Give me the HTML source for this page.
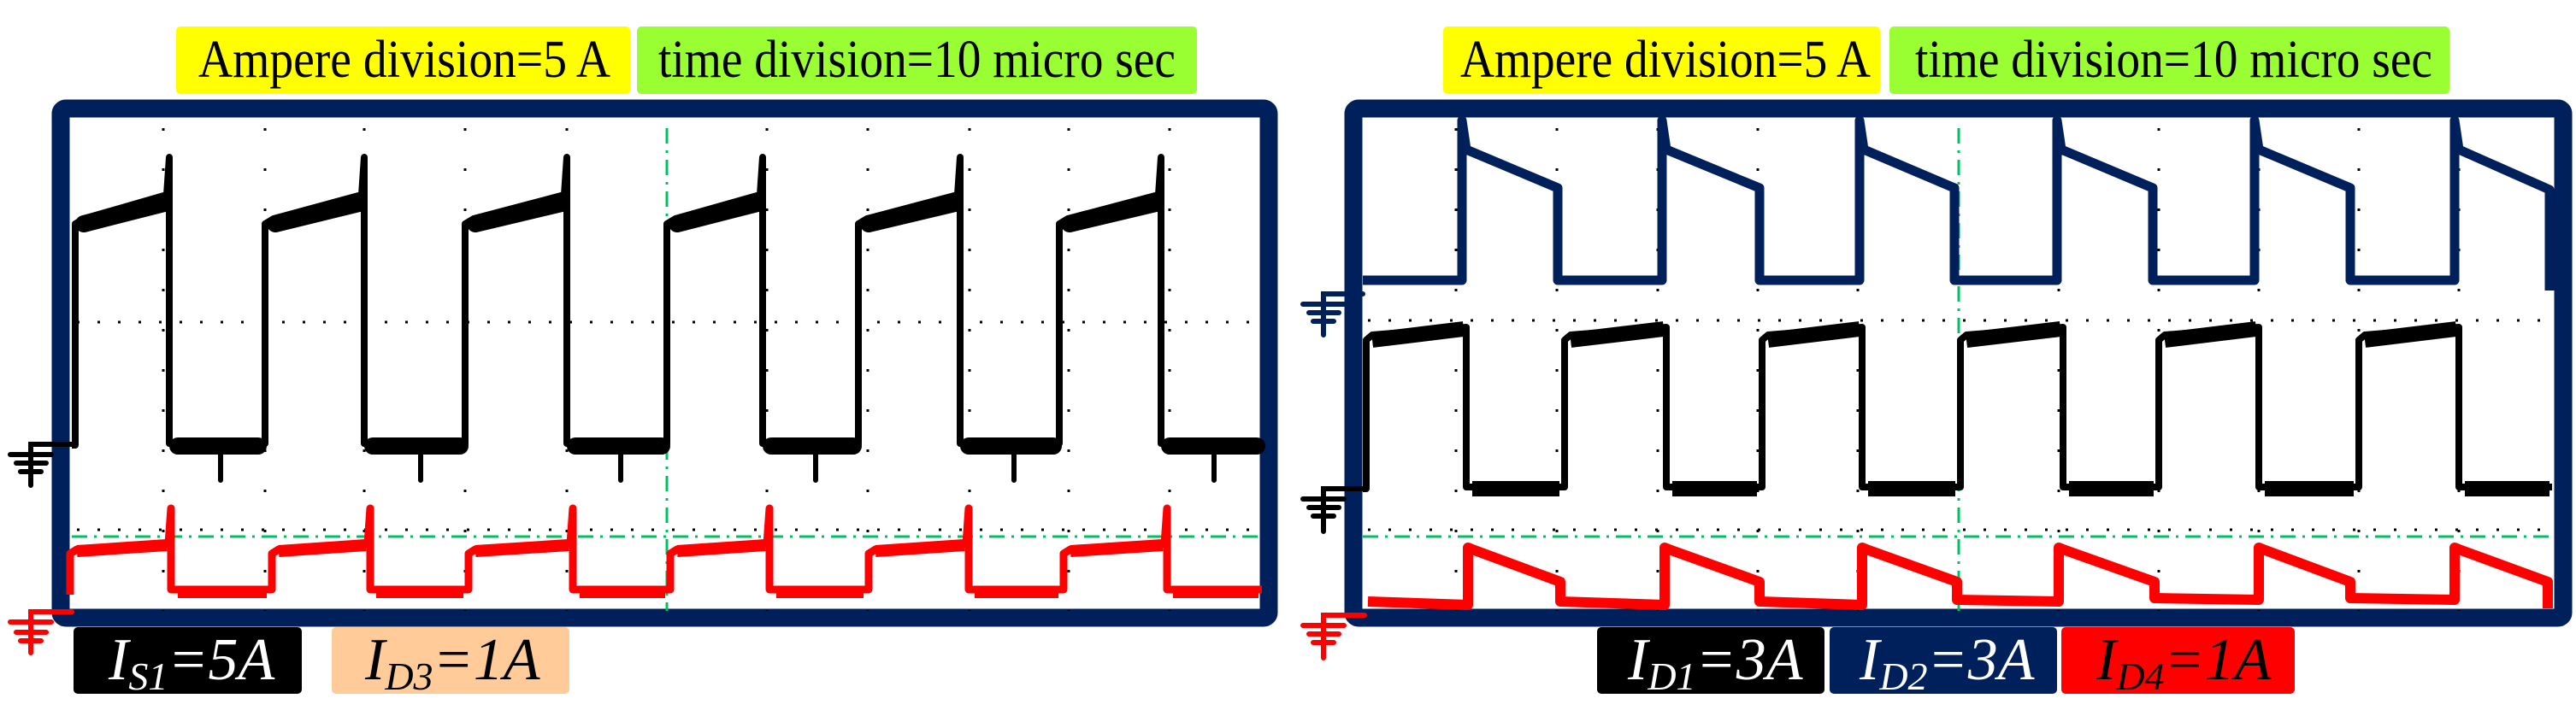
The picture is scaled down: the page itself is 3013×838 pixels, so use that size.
<!DOCTYPE html>
<html><head><meta charset="utf-8"><style>
html,body{margin:0;padding:0;background:#fff;}
svg{display:block;}
text,tspan{font-family:"Liberation Serif","DejaVu Serif","Times New Roman",serif;}
</style></head><body>
<svg width="3013" height="838" viewBox="0 0 3013 838" xmlns="http://www.w3.org/2000/svg">
<rect width="3013" height="838" fill="#fff"/>

<rect x="206" y="31" width="531" height="79" rx="5" fill="#ffff00"/>
<text x="232" y="90" font-size="62" textLength="482" lengthAdjust="spacingAndGlyphs">Ampere division=5 A</text>
<rect x="745" y="31" width="655" height="79" rx="5" fill="#99ff33"/>
<text x="770" y="90" font-size="62" textLength="605" lengthAdjust="spacingAndGlyphs">time division=10 micro sec</text>
<rect x="1688" y="31" width="511" height="79" rx="5" fill="#ffff00"/>
<text x="1708" y="90" font-size="62" textLength="480" lengthAdjust="spacingAndGlyphs">Ampere division=5 A</text>
<rect x="2210" y="31" width="655" height="79" rx="5" fill="#99ff33"/>
<text x="2240" y="90" font-size="62" textLength="605" lengthAdjust="spacingAndGlyphs">time division=10 micro sec</text>

<rect x="71" y="127" width="1413" height="596" rx="6" fill="none" stroke="#00205b" stroke-width="21"/>
<rect x="1583" y="127" width="1415" height="596" rx="6" fill="none" stroke="#00205b" stroke-width="21"/>

<g stroke="#000" stroke-width="3" stroke-dasharray="3 44" fill="none">
<path d="M191,150V715 M310,150V715 M426,150V715 M544,150V715 M663,150V715 M897,150V715 M1015,150V715 M1134,150V715 M1250,150V715 M1368,150V715"/>
<path d="M1703,150V715 M1821,150V715 M1939,150V715 M2056,150V715 M2173,150V715 M2408,150V715 M2525,150V715 M2642,150V715 M2759,150V715 M2876,150V715"/>
</g>
<g stroke="#000" stroke-width="3" stroke-dasharray="3 21" fill="none">
<path d="M90,377H1476 M1600,375H2988"/>
<path d="M90,620H1476 M1600,620H2988"/>
</g>
<g stroke="#00c060" stroke-width="3" fill="none" stroke-dasharray="18 8 3 8">
<path d="M780,150V715 M2291,150V715"/>
<path d="M84,628H1476 M1594,628H2988"/>
</g>

<path d="M84,521 L88,521 L88,262 L98,256 L195,228 L198,184 L198,519 L310,519 L310,262 L320,256 L423,228 L426,184 L426,519 L544,519 L544,262 L554,256 L660,228 L663,184 L663,519 L780,519 L780,262 L790,256 L889,228 L892,184 L892,519 L1004,519 L1004,262 L1014,256 L1120,228 L1123,184 L1123,519 L1239,519 L1239,262 L1249,256 L1355,228 L1358,184 L1358,519 L1476,519" fill="none" stroke="#000" stroke-width="8" stroke-linejoin="round"/>
<g stroke="#000" stroke-width="20" fill="none" stroke-linecap="round">
<path d="M98,262 L192,238 M322,262 L420,238 M556,262 L657,238 M792,262 L886,238 M1016,262 L1117,238 M1251,262 L1352,238"/>
<path d="M208,522 L302,522 M436,522 L538,522 M673,522 L774,522 M902,522 L998,522 M1133,522 L1232,522 M1368,522 L1470,522"/>
</g>
<g stroke="#000" stroke-width="6" fill="none" stroke-linecap="round">
<path d="M258,520V562 M492,520V562 M726,520V562 M954,520V562 M1186,520V562 M1420,520V562"/>
</g>
<path d="M82,696 L82,648 L90,643 L197,637 L200,595 L200,690 L318,690 L318,648 L326,643 L430,637 L433,595 L433,690 L548,690 L548,648 L556,643 L667,637 L670,595 L670,690 L784,690 L784,648 L792,643 L897,637 L900,595 L900,690 L1016,690 L1016,648 L1024,643 L1130,637 L1133,595 L1133,690 L1244,690 L1244,648 L1252,643 L1362,637 L1365,595 L1365,690 L1476,690" fill="none" stroke="#ff0000" stroke-width="9" stroke-linejoin="round"/>
<g stroke="#ff0000" stroke-width="14" fill="none"><path d="M90,645 L195,638 M326,645 L428,638 M556,645 L665,638 M792,645 L895,638 M1024,645 L1128,638 M1252,645 L1360,638"/><path d="M208,693 L312,693 M440,693 L542,693 M678,693 L778,693 M908,693 L1010,693 M1140,693 L1238,693 M1372,693 L1472,693"/></g>

<path d="M1594,328 L1710,328 L1710,141 L1715,175 L1822,220 L1822,328 L1944,328 L1944,141 L1949,175 L2058,220 L2058,328 L2175,328 L2175,141 L2180,175 L2286,220 L2286,328 L2406,328 L2406,141 L2411,175 L2518,220 L2518,328 L2637,328 L2637,141 L2642,175 L2749,220 L2749,328 L2871,328 L2871,141 L2876,175 L2982,222 L2982,340" fill="none" stroke="#00205b" stroke-width="11" stroke-linejoin="round"/>
<path d="M1594,572 L1598,572 L1598,398 L1605,392 L1715,383 L1715,570 L1830,570 L1830,398 L1837,392 L1949,383 L1949,570 L2061,570 L2061,398 L2068,392 L2178,383 L2178,570 L2293,570 L2293,398 L2300,392 L2413,383 L2413,570 L2525,570 L2525,398 L2532,392 L2642,383 L2642,570 L2759,570 L2759,398 L2766,392 L2876,383 L2876,570 L2985,570" fill="none" stroke="#000" stroke-width="8" stroke-linejoin="round"/>
<g stroke="#000" stroke-width="18" fill="none"><path d="M1605,398 L1712,385 M1837,398 L1946,385 M2068,398 L2175,385 M2300,398 L2410,385 M2532,398 L2639,385 M2766,398 L2873,385"/><path d="M1722,572 L1824,572 M1956,572 L2055,572 M2185,572 L2287,572 M2420,572 L2519,572 M2649,572 L2753,572 M2883,572 L2982,572"/></g>
<path d="M1600,704 L1717,708 L1717,641 L1722,643 L1825,681 L1825,704 L1947,708 L1947,641 L1952,643 L2058,681 L2058,704 L2178,708 L2178,641 L2183,643 L2289,681 L2289,702 L2408,704 L2408,641 L2413,643 L2520,681 L2520,700 L2642,702 L2642,641 L2647,643 L2749,681 L2749,700 L2871,702 L2871,641 L2876,643 L2980,681 L2980,712" fill="none" stroke="#ff0000" stroke-width="12" stroke-linejoin="round"/>

<g stroke="#000" stroke-width="6" fill="none" stroke-linecap="round">
<path d="M88,520 H36 V568 M12,532 H60 M19,542 H54 M24,552 H48"/>
<path d="M1598,572 H1548 V622 M1524,584 H1572 M1531,594 H1566 M1536,604 H1560"/>
</g>
<g stroke="#00205b" stroke-width="6" fill="none" stroke-linecap="round">
<path d="M1594,344 H1548 V392 M1524,356 H1572 M1531,366 H1566 M1536,376 H1560"/>
</g>
<g stroke="#ff0000" stroke-width="6" fill="none" stroke-linecap="round">
<path d="M84,716 H36 V764 M12,728 H60 M19,740 H54 M24,750 H48"/>
<path d="M1596,720 H1548 V770 M1524,732 H1572 M1531,742 H1566 M1536,752 H1560"/>
</g>

<rect x="86" y="734" width="267" height="78" rx="5" fill="#000"/>
<text x="127" y="795" font-size="70" font-style="italic" fill="#fff">I<tspan font-size="46" dy="12">S1</tspan><tspan dy="-12">=5A</tspan></text>
<rect x="388" y="734" width="278" height="78" rx="5" fill="#ffcc99"/>
<text x="427" y="795" font-size="70" font-style="italic" fill="#000">I<tspan font-size="46" dy="12">D3</tspan><tspan dy="-12">=1A</tspan></text>
<rect x="1868" y="734" width="266" height="78" rx="5" fill="#000"/>
<text x="1904" y="795" font-size="70" font-style="italic" fill="#fff">I<tspan font-size="46" dy="12">D1</tspan><tspan dy="-12">=3A</tspan></text>
<rect x="2140" y="734" width="266" height="78" rx="5" fill="#00205b"/>
<text x="2175" y="795" font-size="70" font-style="italic" fill="#fff">I<tspan font-size="46" dy="12">D2</tspan><tspan dy="-12">=3A</tspan></text>
<rect x="2411" y="734" width="273" height="78" rx="5" fill="#ff0000"/>
<text x="2452" y="795" font-size="70" font-style="italic" fill="#000">I<tspan font-size="46" dy="12">D4</tspan><tspan dy="-12">=1A</tspan></text>
</svg>
</body></html>
